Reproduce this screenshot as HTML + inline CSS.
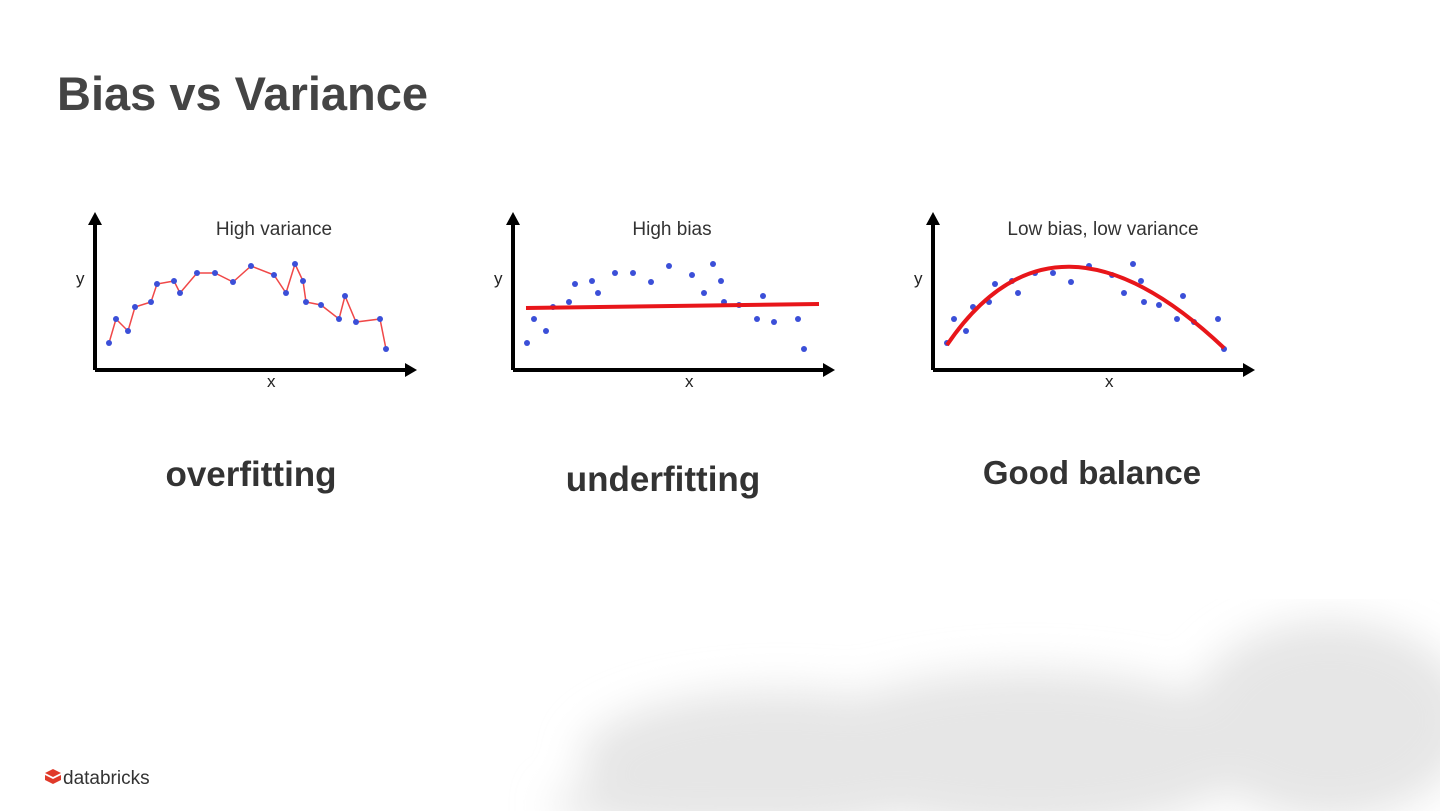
<!DOCTYPE html>
<html><head><meta charset="utf-8"><style>
body{margin:0;width:1440px;height:811px;background:#fff;overflow:hidden;position:relative;font-family:"Liberation Sans",sans-serif}
.t{position:absolute;left:57px;top:66px;font-size:47px;font-weight:bold;color:#444}
.lab{position:absolute;font-size:33px;font-weight:bold;color:#333;transform:translateX(-50%);white-space:nowrap}
svg{position:absolute;left:0;top:0}
</style></head><body>
<svg width="1440" height="811">
<defs>
<filter id="b"><feGaussianBlur stdDeviation="20"/></filter>
<g id="ax">
<line x1="95" y1="370" x2="408" y2="370" stroke="#000" stroke-width="4"/>
<polygon points="417,370 405,363 405,377" fill="#000"/>
<line x1="95" y1="370" x2="95" y2="222" stroke="#000" stroke-width="4"/>
<polygon points="95,212 88,225 102,225" fill="#000"/>
<text x="76" y="284" font-size="17" fill="#222">y</text>
<text x="267" y="387" font-size="17" fill="#222">x</text>
</g>
<g id="pts" fill="#3b4fd8">
<circle cx="109" cy="343" r="3"/><circle cx="116" cy="319" r="3"/><circle cx="128" cy="331" r="3"/><circle cx="135" cy="307" r="3"/><circle cx="151" cy="302" r="3"/><circle cx="157" cy="284" r="3"/><circle cx="174" cy="281" r="3"/><circle cx="180" cy="293" r="3"/><circle cx="197" cy="273" r="3"/><circle cx="215" cy="273" r="3"/><circle cx="233" cy="282" r="3"/><circle cx="251" cy="266" r="3"/><circle cx="274" cy="275" r="3"/><circle cx="286" cy="293" r="3"/><circle cx="295" cy="264" r="3"/><circle cx="303" cy="281" r="3"/><circle cx="306" cy="302" r="3"/><circle cx="321" cy="305" r="3"/><circle cx="339" cy="319" r="3"/><circle cx="345" cy="296" r="3"/><circle cx="356" cy="322" r="3"/><circle cx="380" cy="319" r="3"/><circle cx="386" cy="349" r="3"/>
</g>
</defs>
<g filter="url(#b)" fill="#e6e6e6">
<ellipse cx="780" cy="760" rx="200" ry="70"/>
<ellipse cx="1030" cy="750" rx="230" ry="80"/>
<ellipse cx="1330" cy="720" rx="140" ry="100"/>
<ellipse cx="700" cy="805" rx="150" ry="25"/>
</g>
<use href="#ax"/>
<polyline fill="none" stroke="#f04848" stroke-width="1.5" points="109,343 116,319 128,331 135,307 151,302 157,284 174,281 180,293 197,273 215,273 233,282 251,266 274,275 286,293 295,264 303,281 306,302 321,305 339,319 345,296 356,322 380,319 386,349"/>
<use href="#pts"/>
<text x="274" y="235" font-size="19" fill="#333" text-anchor="middle">High variance</text>
<g transform="translate(418,0)"><use href="#ax"/><use href="#pts"/></g>
<line x1="526" y1="308" x2="819" y2="304" stroke="#e8161a" stroke-width="4"/>
<text x="672" y="235" font-size="19" fill="#333" text-anchor="middle">High bias</text>
<g transform="translate(838,0)"><use href="#ax"/><use href="#pts"/></g>
<path d="M947,345 Q1054,187 1224,348" fill="none" stroke="#e8161a" stroke-width="4"/>
<text x="1103" y="235" font-size="19" fill="#333" text-anchor="middle">Low bias, low variance</text>
<g transform="translate(45,769)">
<polygon points="8,0 16,4 8,8 0,4" fill="#e03a2a"/>
<polygon points="0,6 8,10 16,6 16,11 8,15 0,11" fill="#e03a2a"/>
</g>
<text x="63" y="784" font-size="19" fill="#333">databricks</text>
</svg>
<div class="t">Bias vs Variance</div>
<div class="lab" style="left:251px;top:455px;font-size:35px">overfitting</div>
<div class="lab" style="left:663px;top:460px;font-size:35px">underfitting</div>
<div class="lab" style="left:1092px;top:454px">Good balance</div>
</body></html>
